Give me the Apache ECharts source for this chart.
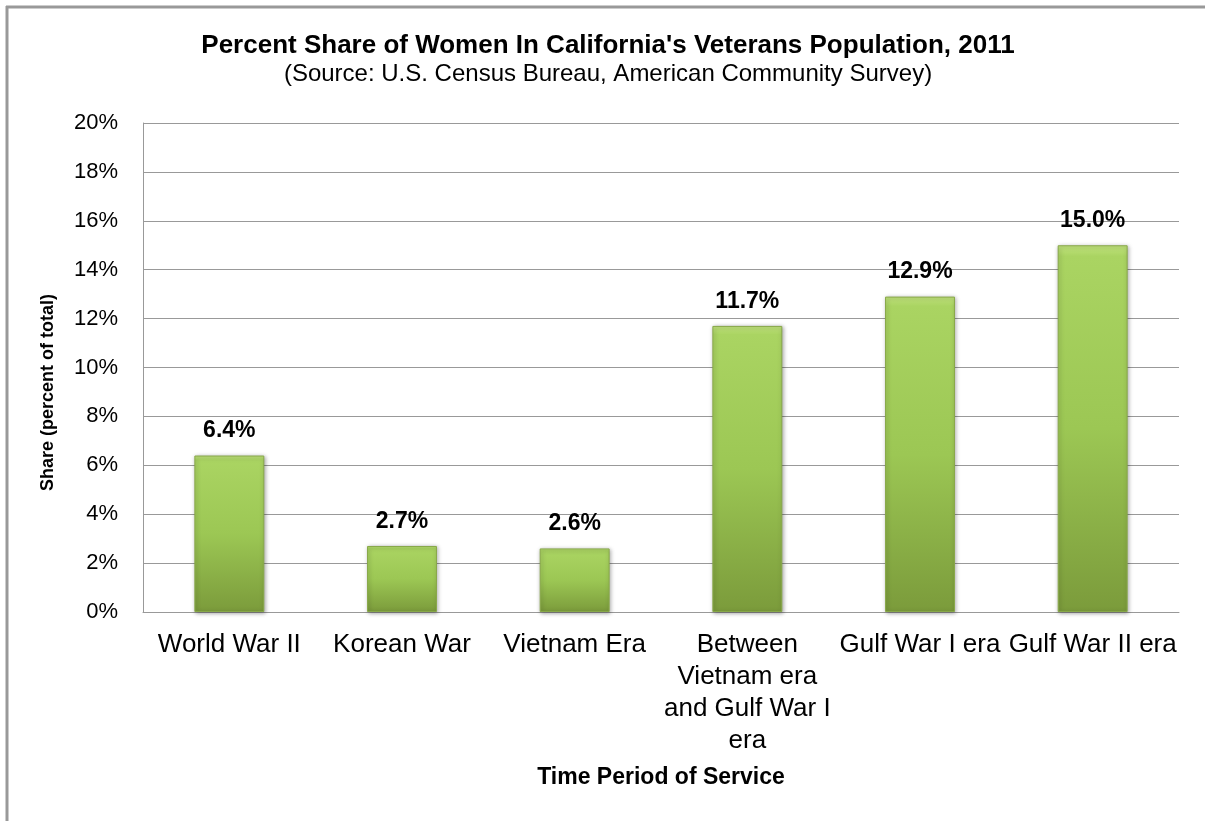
<!DOCTYPE html>
<html>
<head>
<meta charset="utf-8">
<title>Percent Share of Women In California's Veterans Population, 2011</title>
<script src="https://cdn.jsdelivr.net/npm/echarts@6/dist/echarts.min.js"></script>
<style>
  html, body { margin: 0; padding: 0; background: #fff; }
  #chart { width: 1205px; height: 821px; }
</style>
</head>
<body>
<div id="chart"></div>
<script>
// Service periods (line breaks as shown under the axis)
const categories = [
  'World War II',
  'Korean War',
  'Vietnam Era',
  'Between\nVietnam era\nand Gulf War I\nera',
  'Gulf War I era',
  'Gulf War II era'
];

// Women's share of veterans in each period, percent
const shareValues = [6.4, 2.7, 2.6, 11.7, 12.9, 15.0];

// Value axis range and step, percent
const yMin = 0;
const yMax = 20;
const yStep = 2;

const FONT = "'Liberation Sans', Arial, sans-serif";

const chart = echarts.init(document.getElementById('chart'), null, { renderer: 'canvas' });

chart.setOption({
  backgroundColor: '#ffffff',
  animation: false,
  title: {
    text: "Percent Share of Women In California's Veterans Population, 2011",
    subtext: '(Source: U.S. Census Bureau, American Community Survey)',
    left: 608,
    textAlign: 'center',
    top: 33,
    padding: 0,
    itemGap: 3,
    textStyle: { fontFamily: FONT, fontSize: 26, fontWeight: 'bold', color: '#000' },
    subtextStyle: { fontFamily: FONT, fontSize: 24, color: '#000' }
  },
  grid: { left: 143, right: 26, top: 123, bottom: 209, containLabel: false },
  xAxis: {
    type: 'category',
    data: categories,
    name: 'Time Period of Service',
    nameLocation: 'middle',
    nameGap: 154,
    nameTextStyle: { fontFamily: FONT, fontSize: 23, fontWeight: 'bold', color: '#000' },
    axisLine: { show: true, lineStyle: { color: '#999', width: 1 } },
    axisTick: { show: false },
    axisLabel: {
      interval: 0,
      margin: 17,
      fontFamily: FONT,
      fontSize: 26,
      lineHeight: 32,
      color: '#000'
    }
  },
  yAxis: {
    type: 'value',
    min: yMin,
    max: yMax,
    interval: yStep,
    name: 'Share (percent of total)',
    nameLocation: 'middle',
    nameRotate: 90,
    nameGap: 86,
    nameTextStyle: {
      fontFamily: FONT, fontSize: 18, fontWeight: 'bold', color: '#000',
      padding: [0, 50, 0, 0]
    },
    axisLine: { show: true, lineStyle: { color: '#999', width: 1 } },
    axisTick: { show: false },
    splitLine: { show: true, lineStyle: { color: '#999', width: 1 } },
    axisLabel: {
      margin: 25,
      fontFamily: FONT,
      fontSize: 22,
      color: '#000',
      formatter: v => v + '%'
    }
  },
  series: [{
    type: 'bar',
    data: shareValues,
    barWidth: '40.5%',
    itemStyle: {
      color: {
        type: 'linear', x: 0, y: 0, x2: 0, y2: 1,
        colorStops: [
          { offset: 0, color: '#c2e47e' },
          { offset: 0.03, color: '#aad462' },
          { offset: 0.5, color: '#9cc754' },
          { offset: 1, color: '#7b9b3b' }
        ]
      },
      borderColor: '#88a849',
      borderWidth: 1,
      shadowColor: 'rgba(0,0,0,0.35)',
      shadowBlur: 4,
      shadowOffsetX: 1,
      shadowOffsetY: 1
    },
    label: {
      show: true,
      position: 'top',
      distance: 13,
      fontFamily: FONT,
      fontSize: 23,
      fontWeight: 'bold',
      color: '#000',
      formatter: p => p.value.toFixed(1) + '%'
    }
  }],
  graphic: [
    {
      type: 'line',
      shape: { x1: 6, y1: 7, x2: 1205, y2: 7 },
      style: { stroke: '#999', lineWidth: 3 }
    },
    {
      type: 'line',
      shape: { x1: 7, y1: 6, x2: 7, y2: 821 },
      style: { stroke: '#999', lineWidth: 3 }
    }
  ]
});
</script>
</body>
</html>
